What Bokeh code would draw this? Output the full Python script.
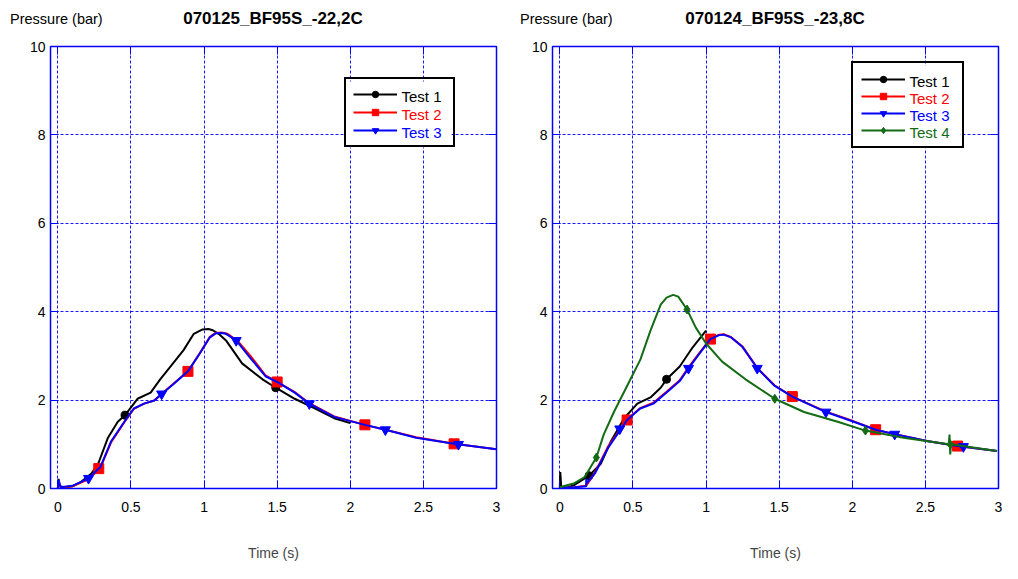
from bokeh.plotting import figure
from bokeh.models import (Range1d, FixedTicker, LinearAxis, Legend, LegendItem, Div,
                          CustomJSTickFormatter)
from bokeh.core.properties import value
from bokeh.layouts import row, column
from bokeh.embed import file_html
from bokeh.resources import INLINE

# ---------------- data ----------------
x_ticks = [0, 0.5, 1, 1.5, 2, 2.5, 3]
x_tick_labels = ["0", "0.5", "1", "1.5", "2", "2.5", "3"]
y_ticks = [0, 2, 4, 6, 8, 10]
y_tick_labels = ["0", "2", "4", "6", "8", "10"]

title_left = "070125_BF95S_-22,2C"
title_right = "070124_BF95S_-23,8C"
y_label = "Pressure (bar)"
x_label = "Time (s)"

# left chart
L_t1_t = [0, 0.005, 0.01, 0.05, 0.10, 0.16, 0.23, 0.276, 0.343, 0.41, 0.46, 0.545, 0.635, 0.70, 0.77, 0.86, 0.93, 0.99, 1.03, 1.06, 1.10, 1.15, 1.26, 1.40, 1.49, 1.62, 1.76, 1.89, 2.0]
L_t1_p = [0.0, 0.22, 0.05, 0.03, 0.05, 0.15, 0.34, 0.56, 1.15, 1.51, 1.66, 2.03, 2.17, 2.47, 2.76, 3.13, 3.5, 3.6, 3.61, 3.58, 3.5, 3.35, 2.83, 2.47, 2.28, 2.03, 1.81, 1.59, 1.48]
L_t1_mt = [0.46, 1.49]
L_t1_mp = [1.66, 2.28]

L_t2_t = [0, 0.005, 0.02, 0.10, 0.21, 0.29, 0.365, 0.455, 0.52, 0.59, 0.66, 0.71, 0.79, 0.89, 0.97, 1.04, 1.08, 1.12, 1.16, 1.23, 1.32, 1.42, 1.50, 1.62, 1.72, 1.89, 2.10, 2.24, 2.45, 2.71, 3.0]
L_t2_p = [0.0, 0.15, 0.02, 0.05, 0.21, 0.46, 1.05, 1.50, 1.80, 1.92, 1.99, 2.14, 2.37, 2.65, 3.06, 3.43, 3.52, 3.53, 3.5, 3.34, 2.99, 2.56, 2.41, 2.18, 1.93, 1.63, 1.44, 1.33, 1.16, 1.01, 0.89]
L_t2_mt = [0.28, 0.89, 1.50, 2.10, 2.71]
L_t2_mp = [0.45, 2.65, 2.41, 1.44, 1.01]

L_t3_t = [0, 0.005, 0.02, 0.10, 0.21, 0.29, 0.365, 0.455, 0.52, 0.59, 0.66, 0.71, 0.79, 0.89, 0.97, 1.04, 1.08, 1.12, 1.15, 1.22, 1.31, 1.42, 1.50, 1.62, 1.72, 1.89, 2.10, 2.24, 2.45, 2.71, 3.0]
L_t3_p = [0.0, 0.2, 0.03, 0.06, 0.23, 0.48, 1.07, 1.51, 1.81, 1.92, 1.99, 2.14, 2.36, 2.65, 3.05, 3.42, 3.51, 3.52, 3.5, 3.35, 2.98, 2.54, 2.41, 2.17, 1.92, 1.62, 1.44, 1.33, 1.15, 1.01, 0.89]
L_t3_mt = [0.21, 0.71, 1.22, 1.72, 2.24, 2.74]
L_t3_mp = [0.23, 2.14, 3.35, 1.92, 1.33, 1.0]

# right chart
R_t1_t = [0, 0.003, 0.01, 0.05, 0.10, 0.20, 0.28, 0.35, 0.44, 0.53, 0.62, 0.69, 0.73, 0.82, 0.91, 1.0]
R_t1_p = [0.0, 0.37, 0.03, 0.02, 0.08, 0.29, 0.56, 1.07, 1.59, 1.92, 2.06, 2.28, 2.47, 2.76, 3.2, 3.57]
R_t1_mt = [0.20, 0.73]
R_t1_mp = [0.29, 2.47]

R_t2_t = [0, 0.10, 0.18, 0.24, 0.33, 0.46, 0.55, 0.64, 0.73, 0.82, 0.88, 0.955, 1.03, 1.09, 1.12, 1.17, 1.25, 1.35, 1.47, 1.59, 1.82, 2.01, 2.16, 2.29, 2.52, 2.72, 2.99]
R_t2_p = [0.02, 0.03, 0.06, 0.36, 0.95, 1.56, 1.82, 1.94, 2.19, 2.45, 2.74, 3.07, 3.39, 3.48, 3.49, 3.43, 3.21, 2.73, 2.33, 2.08, 1.74, 1.52, 1.33, 1.23, 1.07, 0.96, 0.85]
R_t2_mt = [0.46, 1.03, 1.59, 2.16, 2.72]
R_t2_mp = [1.55, 3.38, 2.08, 1.33, 0.96]

R_t3_t = [0, 0.10, 0.18, 0.181, 0.185, 0.24, 0.33, 0.46, 0.55, 0.64, 0.73, 0.82, 0.88, 0.955, 1.03, 1.09, 1.12, 1.17, 1.25, 1.35, 1.47, 1.59, 1.82, 2.01, 2.16, 2.29, 2.52, 2.72, 2.99]
R_t3_p = [0.02, 0.03, 0.05, 0.22, 0.12, 0.34, 0.92, 1.55, 1.81, 1.92, 2.17, 2.43, 2.72, 3.05, 3.38, 3.47, 3.48, 3.42, 3.2, 2.72, 2.32, 2.08, 1.73, 1.51, 1.33, 1.23, 1.07, 0.96, 0.85]
R_t3_mt = [0.41, 0.88, 1.35, 1.82, 2.29, 2.76]
R_t3_mp = [1.35, 2.72, 2.72, 1.73, 1.23, 0.95]

R_t4_t = [0, 0.10, 0.17, 0.25, 0.30, 0.37, 0.46, 0.55, 0.62, 0.69, 0.73, 0.775, 0.81, 0.87, 0.93, 1.0, 1.11, 1.27, 1.47, 1.67, 1.90, 2.09, 2.35, 2.66, 2.665, 2.67, 2.675, 2.99]
R_t4_p = [0.03, 0.12, 0.26, 0.70, 1.22, 1.73, 2.32, 2.91, 3.57, 4.16, 4.32, 4.38, 4.34, 4.05, 3.64, 3.28, 2.87, 2.47, 2.03, 1.73, 1.51, 1.31, 1.15, 1.0, 1.22, 0.77, 1.0, 0.85]
R_t4_mt = [0.25, 0.87, 1.47, 2.09, 2.67]
R_t4_mp = [0.70, 4.05, 2.03, 1.31, 1.0]

series_names = ["Test 1", "Test 2", "Test 3", "Test 4"]
colors = ["black", "#ff0000", "#0000ff", "#136b13"]
markers = ["circle", "square", "inverted_triangle", "diamond"]
marker_sizes = [8, 10, 10, 9]

FONT = "Liberation Sans"
BLUE = "#0000ff"
HEAD_H = 30
FRAME_H = 442
FRAME_W = 446
X0, X1 = -0.05, 3.0
Y0, Y1 = 0.0, 10.0
LEG_LABEL_W = 43


def sx2d(sx):
    return X0 + sx * (X1 - X0) / FRAME_W


def sy2d(sy):
    return Y0 + sy * (Y1 - Y0) / FRAME_H


def build(data, border_left, border_right, leg_loc, leg_pad, leg_spacing, leg_glyph_h):
    W = border_left + FRAME_W + border_right
    p = figure(width=W, height=563 - HEAD_H, x_range=Range1d(X0, X1), y_range=Range1d(Y0, Y1),
               output_backend="svg", toolbar_location=None,
               min_border_left=border_left, min_border_right=border_right,
               min_border_top=46 - HEAD_H, min_border_bottom=75)
    p.background_fill_color = "white"
    p.border_fill_color = "white"
    p.outline_line_color = BLUE
    p.outline_line_width = 1.5

    xo = {t: s for t, s in zip(x_ticks, x_tick_labels)}
    yo = {t: s for t, s in zip(y_ticks, y_tick_labels)}

    for ax in p.xaxis:
        ax.ticker = FixedTicker(ticks=x_ticks)
        ax.major_label_overrides = xo
        ax.axis_label = x_label
        ax.axis_label_text_font = FONT
        ax.axis_label_text_font_size = "14px"
        ax.axis_label_text_font_style = "normal"
        ax.axis_label_standoff = 30
        ax.major_label_standoff = 13
    for ax in p.yaxis:
        ax.ticker = FixedTicker(ticks=y_ticks)
        ax.major_label_overrides = yo
        ax.major_label_standoff = 5
    for ax in list(p.xaxis) + list(p.yaxis):
        ax.axis_line_color = BLUE
        ax.major_tick_line_color = BLUE
        ax.major_tick_in = 8
        ax.major_tick_out = 0
        ax.minor_tick_line_color = None
        ax.major_label_text_font = FONT
        ax.major_label_text_font_size = "14px"
        ax.major_label_text_color = "black"

    blank = CustomJSTickFormatter(code="return ''")
    top = LinearAxis(ticker=FixedTicker(ticks=x_ticks), formatter=blank,
                     axis_line_color=BLUE, major_tick_line_color=BLUE, major_tick_in=8,
                     major_tick_out=0, minor_tick_line_color=None, major_label_standoff=0)
    right = LinearAxis(ticker=FixedTicker(ticks=y_ticks), formatter=blank,
                       axis_line_color=BLUE, major_tick_line_color=BLUE, major_tick_in=8,
                       major_tick_out=0, minor_tick_line_color=None, major_label_standoff=0)
    p.add_layout(top, "above")
    p.add_layout(right, "right")

    p.xgrid.ticker = FixedTicker(ticks=x_ticks)
    p.ygrid.ticker = FixedTicker(ticks=y_ticks)
    for g in (p.xgrid, p.ygrid):
        g.grid_line_color = BLUE
        g.grid_line_dash = "3 2"
        g.grid_line_width = 1
        g.grid_line_alpha = 0.9

    n = len(data)
    H = 2 * leg_pad + n * leg_glyph_h + (n - 1) * leg_spacing
    LW = 2 * leg_pad + 44 + 6 + LEG_LABEL_W
    # white legend background (drawn as a glyph so the coloured labels can sit on it)
    p.quad(left=[sx2d(leg_loc[0])], right=[sx2d(leg_loc[0] + LW)],
           bottom=[sy2d(leg_loc[1])], top=[sy2d(leg_loc[1] + H)],
           fill_color="white", line_color=None)

    items = []
    for i, (t, pr, mt, mp) in enumerate(data):
        lr = p.line(t, pr, line_color=colors[i], line_width=2)
        sr = p.scatter(mt, mp, marker=markers[i], size=marker_sizes[i],
                       fill_color=colors[i], line_color=colors[i])
        items.append(LegendItem(label=series_names[i], renderers=[lr, sr]))

    lx, ly, lt, lc = [], [], [], []
    for i in range(n):
        cy = leg_loc[1] + H - (leg_pad + leg_glyph_h / 2 + i * (leg_glyph_h + leg_spacing))
        lx.append(sx2d(leg_loc[0] + leg_pad + 44 + 6))
        ly.append(sy2d(cy))
        lt.append(series_names[i])
        lc.append(colors[i])
    p.text(x=lx, y=ly, text=lt, text_color=lc, text_font=value(FONT),
           text_font_size=value("15px"), text_baseline="middle", text_align="left")

    leg = Legend(items=items, location=leg_loc, padding=leg_pad, spacing=leg_spacing,
                 glyph_width=44, glyph_height=leg_glyph_h, label_height=leg_glyph_h,
                 label_width=LEG_LABEL_W, label_standoff=6, margin=0,
                 label_text_font=FONT, label_text_font_size="14.5px", label_text_alpha=0,
                 border_line_color="black", border_line_width=2, border_line_alpha=1,
                 background_fill_alpha=0)
    p.add_layout(leg)
    return p


left_data = [(L_t1_t, L_t1_p, L_t1_mt, L_t1_mp),
             (L_t2_t, L_t2_p, L_t2_mt, L_t2_mp),
             (L_t3_t, L_t3_p, L_t3_mt, L_t3_mp)]
right_data = [(R_t1_t, R_t1_p, R_t1_mt, R_t1_mp),
              (R_t2_t, R_t2_p, R_t2_mt, R_t2_mp),
              (R_t3_t, R_t3_p, R_t3_mt, R_t3_mp),
              (R_t4_t, R_t4_p, R_t4_mt, R_t4_mp)]

BL1, BR1, BL2, BR2 = 50, 14, 42, 4
p1 = build(left_data, BL1, BR1, (294, 341), 7, 2, 16)
p2 = build(right_data, BL2, BR2, (299, 340), 8, 1, 16)

c1 = BL1 + FRAME_W / 2
x2 = BL1 + FRAME_W + BR1
c2 = x2 + BL2 + FRAME_W / 2


def span(txt, left, size, bold, center):
    tr = "transform:translateX(-50%);" if center else ""
    fw = "bold" if bold else "normal"
    return (f'<span style="position:absolute;left:{left}px;top:4px;line-height:{HEAD_H}px;'
            f'font-size:{size};font-weight:{fw};white-space:nowrap;{tr}">{txt}</span>')


head_html = (f'<div style="position:relative;width:1002px;height:{HEAD_H}px;'
             f'font-family:\'Liberation Sans\';color:black;">'
             + span(y_label, 10, "14.5px", False, False)
             + span(title_left, c1, "17px", True, True)
             + span(y_label, x2 + 10, "14.5px", False, False)
             + span(title_right, c2, "17px", True, True)
             + '</div>')
head = Div(text=head_html, width=1002, height=HEAD_H, margin=0)

layout = column(head, row(p1, p2))
open("out.html", "w").write(file_html(layout, INLINE))
